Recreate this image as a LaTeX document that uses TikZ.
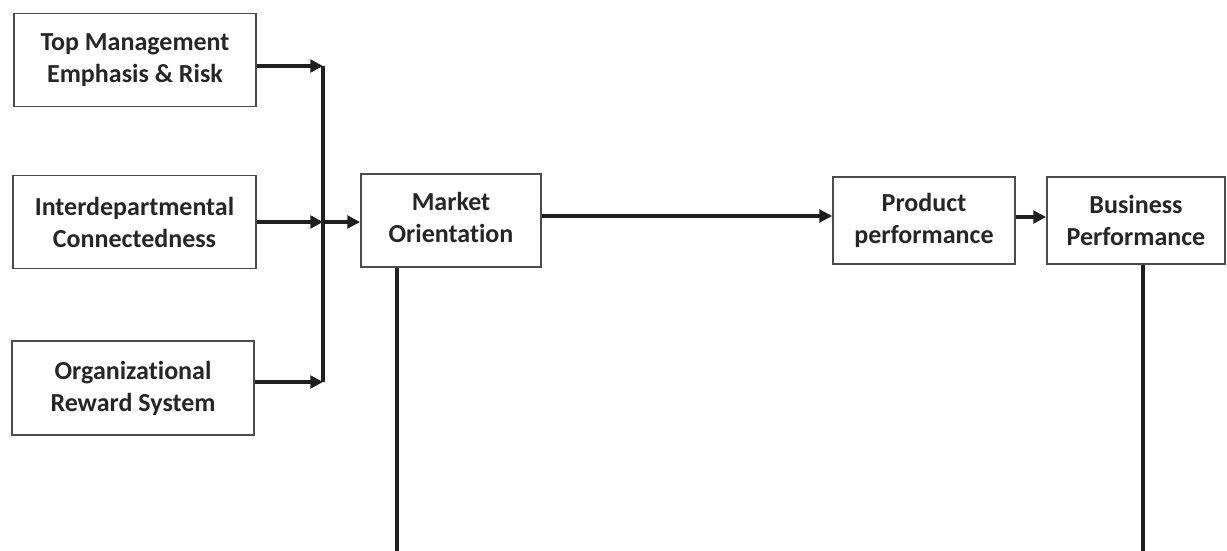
\documentclass[tikz,border=0pt]{standalone}
\usepackage{fontspec}
\setmainfont{Carlito}[Ligatures=NoCommon]
\usetikzlibrary{arrows.meta}
\begin{document}
\begin{tikzpicture}[x=0.75pt,y=-0.75pt,
  box/.style={draw=black!70,line width=1.4pt,rectangle,align=center,inner sep=0pt,
    text=black!85,font=\fontsize{19.5}{24}\selectfont\bfseries},
  conn/.style={line width=3pt,draw=black!88},
  arr/.style={conn,-{Triangle[length=9.5pt,width=9.5pt]}}]
\useasboundingbox (0,0) rectangle (1227,550);
\node[box,minimum width=242*0.75pt,minimum height=93*0.75pt] (tm) at (135,60) {Top Management\\Emphasis \& Risk};
\node[box,minimum width=243*0.75pt,minimum height=93*0.75pt] (id) at (134.5,222) {Interdepartmental\\Connectedness};
\node[box,minimum width=242*0.75pt,minimum height=94*0.75pt] (or) at (133,388) {Organizational\\Reward System};
\node[box,minimum width=180*0.75pt,minimum height=93*0.75pt,text depth=0.5em] (mo) at (451,220.5) {Market\\Orientation};
\node[box,minimum width=182*0.75pt,minimum height=87*0.75pt] (pp) at (924,220.5) {Product\\performance};
\node[box,minimum width=178*0.75pt,minimum height=87*0.75pt] (bp) at (1136,220.5) {Business\\Performance};
\coordinate (j1) at (323,66);
\coordinate (j2) at (323,222);
\coordinate (j3) at (323,382);
\coordinate (b1) at (397,551);
\coordinate (b2) at (1143,551);
\draw[conn] (j1) -- (j3);
\draw[arr] (tm.east |- j1) -- (j1);
\draw[arr] (id.east |- j2) -- (j2);
\draw[arr] (or.east |- j3) -- (j3);
\draw[arr] (j2) -- (mo.west |- j2);
\draw[arr] (mo.east |- 0,216) -- (pp.west |- 0,216);
\draw[arr] (pp.east |- 0,217) -- (bp.west |- 0,217);
\draw[conn] (mo.south -| b1) -- (b1);
\draw[conn] (bp.south -| b2) -- (b2);
\end{tikzpicture}
\end{document}
